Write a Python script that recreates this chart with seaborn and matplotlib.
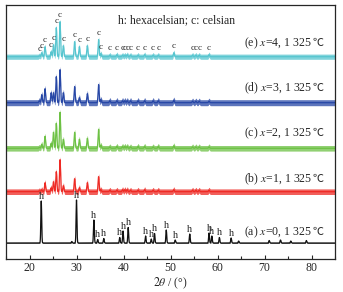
import numpy as np
import pandas as pd
import seaborn as sns
import matplotlib.pyplot as plt
from matplotlib.ticker import MultipleLocator

# hexacelsian reflections (2theta, deg) and heights seen in pattern (a)
hex_pos = [22.5, 29.0, 30.0, 33.7, 34.5, 35.8, 39.2, 39.9, 41.0, 44.7, 45.9, 46.6,
           49.1, 51.0, 54.1, 58.2, 58.8, 60.4, 62.9, 64.5, 71.0, 73.4, 75.6, 78.9]
hex_int_a = [42, 1.5, 43, 23, 3.5, 4.5, 5.5, 12, 15.5, 7, 4, 9.5,
             13, 3, 9, 10, 7, 5.5, 5, 2, 2.5, 3, 2, 2.5]
hex_marked = [22.5, 30.0, 33.7, 34.5, 35.8, 39.2, 39.9, 41.0, 44.7, 45.9, 46.6,
              49.1, 51.0, 54.1, 58.2, 58.8, 60.4, 62.9]

# celsian reflections and heights in patterns (b)-(e)
cel_pos = [22.1, 22.6, 23.3, 24.6, 25.1, 25.7, 26.5, 27.2, 29.6, 30.6, 32.3, 34.7,
           35.2, 37.1, 38.6, 39.8, 40.3, 40.8, 41.5, 43.1, 44.5, 46.3, 47.4, 50.7,
           54.7, 55.4, 56.1, 58.2]
cel_int_b = [1, 2, 9, 4, 10, 20, 32, 6, 13, 4, 9, 15,
             2, 1.5, 1.5, 2, 2, 2, 1.5, 1.5, 2, 1.5, 1.5, 2, 1.5, 1.5, 1.5, 1.5]
cel_int_c = [1, 4, 12, 5, 16, 25, 36, 9, 16, 9, 10, 19,
             3, 1.5, 2, 2, 2, 2, 1.5, 2, 2, 1.5, 2, 2.5, 1.5, 1.5, 1.5, 1.5]
cel_int_d = [2, 8, 14, 10, 10, 26, 33, 10, 16, 5, 9, 18,
             3, 2, 2, 2, 2, 2, 2, 2, 2, 2, 2, 2.5, 1.5, 1.5, 1.5, 1.5]
cel_int_e = [1, 4, 10, 5, 12, 29, 35, 11, 15, 10, 11, 17,
             3, 1.5, 2, 1.5, 1.5, 2, 1.5, 1.5, 2, 1.5, 1.5, 4, 1.5, 1.5, 1.5, 2]

sample_labels = ['(a) $x$=0, 1 325 ', '(b) $x$=1, 1 325 ', '(c) $x$=2, 1 325 ',
                 '(d) $x$=3, 1 325 ', '(e) $x$=4, 1 325 ']
colors = ['#111111', '#EE2A24', '#6DC144', '#2747A6', '#56C5CF']
offsets = [16.3, 67.6, 111.0, 156.6, 202.6]
label_y = [27, 80, 126, 171, 216]

two_theta = np.arange(15, 85.001, 0.02)


def profile(pos, inten, width):
    y = np.zeros_like(two_theta)
    for p, h in zip(pos, inten):
        y += h * np.exp(-0.5 * ((two_theta - p) / width) ** 2)
    return y


sns.set_style('ticks')
plt.rcParams['font.family'] = ['Liberation Serif', 'Noto Sans CJK SC']
plt.rcParams['mathtext.fontset'] = 'stix'

fig = plt.figure(figsize=(3.43, 2.92), dpi=100)
ax = fig.add_axes([6 / 343, 1 - 259.3 / 292, 329 / 343, 254.3 / 292])

patterns = [profile(hex_pos, hex_int_a, 0.09),
            profile(cel_pos, cel_int_b, 0.11),
            profile(cel_pos, cel_int_c, 0.11),
            profile(cel_pos, cel_int_d, 0.11),
            profile(cel_pos, cel_int_e, 0.11)]
band = [0.4, 2.8, 2.8, 3.0, 2.6]

for i, y in enumerate(patterns):
    df = pd.DataFrame({'two_theta': two_theta, 'I': y + offsets[i]})
    ax.fill_between(df['two_theta'], df['I'] - band[i], df['I'] + band[i],
                    color=colors[i], lw=0, alpha=0.75)
    sns.lineplot(data=df, x='two_theta', y='I', ax=ax, color=colors[i], lw=0.9)
    t = ax.text(80.2, label_y[i], sample_labels[i], ha='right', va='center', fontsize=8.5)
    ax.annotate('℃', xy=(1, 0.5), xycoords=t, ha='left', va='center',
                fontsize=8, family='Noto Sans CJK SC')

# phase markers
for p in hex_marked:
    k = np.abs(two_theta - p) < 0.3
    top = (patterns[0][k]).max() + offsets[0] + band[0]
    ax.text(p, top + 4.5, 'h', ha='center', va='center', fontsize=7.5)
for p in cel_pos:
    k = np.abs(two_theta - p) < 0.2
    top = (patterns[4][k]).max() + offsets[4] + band[4]
    ax.text(p, top + 4.5, 'c', ha='center', va='center', fontsize=6.5)

ax.text(51.3, 239.3, 'h: hexacelsian; c: celsian', ha='center', va='center', fontsize=8.5)

ax.set_xlim(15, 85)
ax.set_ylim(0, 254.3)
ax.set_yticks([])
ax.set_xticks(range(20, 81, 10))
ax.xaxis.set_minor_locator(MultipleLocator(5))
ax.tick_params(axis='x', which='major', direction='in', length=3, width=0.8,
               labelsize=8.5, pad=2)
ax.tick_params(axis='x', which='minor', direction='in', length=2, width=0.8)
ax.set_xlabel('$2\\theta$ / (°)', fontsize=8.5, labelpad=1)
ax.set_ylabel('')
for s in ax.spines.values():
    s.set_linewidth(0.9)
    s.set_visible(True)

fig.savefig('out.png', dpi=100)
